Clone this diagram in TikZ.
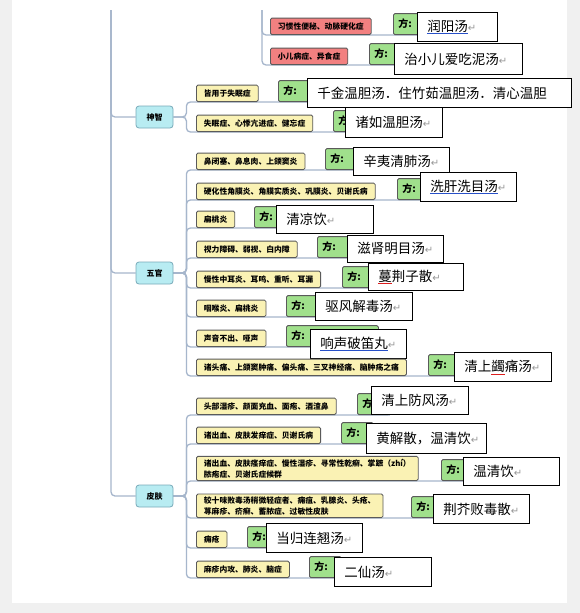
\documentclass[tikz,border=0pt]{standalone}
\usepackage{fontspec}
\newfontfamily\cjk{Noto Sans CJK SC}
\newfontfamily\symfont{DejaVu Sans}
\usetikzlibrary{backgrounds}

\definecolor{pagegray}{RGB}{240,240,240}
\definecolor{linecol}{RGB}{166,182,204}
\definecolor{boxline}{RGB}{90,90,90}
\definecolor{illfill}{RGB}{250,242,180}
\definecolor{redfill}{RGB}{242,128,128}
\definecolor{fangfill}{RGB}{160,224,140}
\definecolor{sectfill}{RGB}{184,236,242}
\definecolor{sectline}{RGB}{120,170,185}
\definecolor{retgray}{RGB}{150,150,150}
\definecolor{ulblue}{RGB}{40,80,200}
\definecolor{ulred}{RGB}{220,30,30}

\newcommand{\retmark}{{\symfont\fontsize{10}{10}\selectfont\color{retgray}↵}}
\newcommand{\ulblue}[1]{\sbox0{#1}\rlap{\color{ulblue}\rule[-2.5pt]{\wd0}{0.7pt}}\usebox0}
\newcommand{\ulred}[1]{\sbox0{#1}\rlap{\color{ulred}\rule[-3pt]{\wd0}{0.6pt}}\usebox0}

\tikzset{
  branch/.style={draw=linecol, line width=1.3pt, rounded corners=4pt},
  ill/.style={draw=boxline, fill=illfill, line width=0.8pt, rounded corners=1.5pt,
    font=\cjk\bfseries\fontsize{7.8}{11}\selectfont, inner xsep=7.5pt, inner ysep=2.5pt,
    minimum height=16.5pt, align=left, anchor=south west},
  illred/.style={ill, fill=redfill},
  fangbox/.style={draw=boxline, fill=fangfill, line width=0.8pt, rounded corners=1.5pt,
    font=\cjk\bfseries\fontsize{10}{10}\selectfont, inner xsep=5pt, inner ysep=0pt,
    minimum height=21pt, anchor=south west},
  ansbox/.style={draw=black, fill=white, line width=0.8pt,
    font=\cjk\fontsize{13.5}{14}\selectfont, inner xsep=10pt, inner ysep=0pt, anchor=north west},
  sect/.style={draw=sectline, fill=sectfill, line width=0.8pt, rounded corners=3pt,
    font=\cjk\bfseries\fontsize{8}{8}\selectfont, minimum width=37pt, minimum height=22pt, inner sep=0pt}
}

\begin{document}
\begin{tikzpicture}[x=1pt, y=-1pt]
  \useasboundingbox (0,0) rectangle (580,613);
  %% ── Page ────────────────────────────────────────────────────
  \begin{scope}[on background layer]
    \fill[pagegray] (0,0) rectangle (580,613);
    \fill[white] (12,0) rectangle (567,603);
  \end{scope}
  %% ── Trunk and topics ────────────────────────────────────────
  \coordinate (root) at (111,10);
  \coordinate (topsub) at (262,10);
  \node[sect] (shenzhi) at (154.5,117) {神智};
  \node[sect] (wuguan)  at (154.5,273) {五官};
  \node[sect] (pifu)    at (154.5,496) {皮肤};
  \begin{scope}[on background layer]
    \draw[branch] (root) |- (shenzhi.west);
    \draw[branch] (root) |- (wuguan.west);
    \draw[branch] (root) |- (pifu.west);
  \end{scope}
  %% ── Rows: name / bottom / symptom / fang x / fang w / box x / box y / box w / box h / formula ──
  %% top (topic cut off)
  \foreach \n/\yb/\txt/\fx/\fw/\bx/\by/\bw/\bh/\ans in {
    t1/35/{习惯性便秘、动脉硬化症}/393/32/417/12/80/29/{\ulblue{润阳汤}\retmark},
    t2/65/{小儿病症、异食症}/369/32/394/43/128/31/{治小儿爱吃泥汤\retmark}}{
    \node[illred] (\n) at (270,\yb) {\txt};
    \node[fangbox] (\n f) at (\fx,\yb) {\makebox[\dimexpr\fw pt-10pt\relax][l]{方:}};
    \node[ansbox, minimum height=\bh pt] (\n a) at (\bx,\by) {\makebox[\dimexpr\bw pt-20pt\relax][l]{\ans}};
    \begin{scope}[on background layer]
      \draw[branch] (topsub) |- (\n f.south east);
    \end{scope}
  }
  %% 神智
  \foreach \n/\yb/\txt/\fx/\fw/\bx/\by/\bw/\bh/\ans in {
    s1/102/{皆用于失眠症}/278/36/307/78/264/29/{千金温胆汤．住竹茹温胆汤．清心温胆},
    s2/132/{失眠症、心悸亢进症、健忘症}/333/32/345/107/97/30/{诸如温胆汤\retmark}}{
    \node[ill] (\n) at (196,\yb) {\txt};
    \node[fangbox] (\n f) at (\fx,\yb) {\makebox[\dimexpr\fw pt-10pt\relax][l]{方:}};
    \node[ansbox, minimum height=\bh pt] (\n a) at (\bx,\by) {\makebox[\dimexpr\bw pt-20pt\relax][l]{\ans}};
    \begin{scope}[on background layer]
      \draw[branch] (shenzhi.east) -- ++(13,0) |- (\n f.south east);
    \end{scope}
  }
  %% 五官
  \foreach \n/\yb/\txt/\fx/\fw/\bx/\by/\bw/\bh/\ans in {
    w1/170/{鼻闭塞、鼻息肉、上颌窦炎}/325/32/353/147/96/28/{辛夷清肺汤\retmark},
    w2/200/{硬化性角膜炎、角膜实质炎、巩膜炎、贝谢氏病}/397/32/420/172/96/29/{\ulblue{洗肝洗目汤}\retmark},
    w3/228/{扁桃炎}/254/32/276/205/97/28/{清凉饮\retmark},
    w4/258/{视力障碍、弱视、白内障}/317/32/347/235/96/27/{滋肾明目汤\retmark},
    w5/288/{慢性中耳炎、耳鸣、重听、耳漏}/342/32/368/263/95/27/{\ulred{蔓}荆子散\retmark},
    w6/317/{咽喉炎、扁桃炎}/286/32/315/292/97/28/{驱风解毒汤\retmark},
    w7/347/{声音不出、哑声}/286/92/310/329/96/29/{\ulblue{响声破笛丸}\retmark},
    w8/376/{诸头痛、上颌窦肿痛、偏头痛、三叉神经痛、脑肿疡之痛}/428/32/454/352/97/29/{清上\ulred{蠲}痛汤\retmark}}{
    \node[ill] (\n) at (196,\yb) {\txt};
    \node[fangbox] (\n f) at (\fx,\yb) {\makebox[\dimexpr\fw pt-10pt\relax][l]{方:}};
    \node[ansbox, minimum height=\bh pt] (\n a) at (\bx,\by) {\makebox[\dimexpr\bw pt-20pt\relax][l]{\ans}};
    \begin{scope}[on background layer]
      \draw[branch] (wuguan.east) -- ++(13,0) |- (\n f.south east);
    \end{scope}
  }
  %% 皮肤
  \foreach \n/\yb/\txt/\fx/\fw/\bx/\by/\bw/\bh/\ans in {
    p1/415/{头部湿疹、颜面充血、面疱、酒渣鼻}/357/32/371/386/97/28/{清上防风汤\retmark},
    p2/444/{诸出血、皮肤发痒症、贝谢氏病}/341/32/366/423/120/30/{黄解散，温清饮\retmark},
    p3/481/{诸出血、皮肤瘙痒症、慢性湿疹、寻常性乾癣、掌蹠（zhí）\\脓疱症、贝谢氏症候群}/441/32/463/457/96/28/{温清饮\retmark},
    p4/518/{较十味败毒汤稍微轻症者、痈疽、乳腺炎、头疮、\\荨麻疹、疥癣、蓄脓症、过敏性皮肤}/411/32/433/494/96/29/{荆芥败毒散\retmark},
    p5/548/{痈疮}/247/32/266/523/96/29/{当归连翘汤\retmark},
    p6/578/{麻疹内攻、肺炎、脑症}/309/32/334/557/97/29/{二仙汤\retmark}}{
    \node[ill] (\n) at (196,\yb) {\txt};
    \node[fangbox] (\n f) at (\fx,\yb) {\makebox[\dimexpr\fw pt-10pt\relax][l]{方:}};
    \node[ansbox, minimum height=\bh pt] (\n a) at (\bx,\by) {\makebox[\dimexpr\bw pt-20pt\relax][l]{\ans}};
    \begin{scope}[on background layer]
      \draw[branch] (pifu.east) -- ++(13,0) |- (\n f.south east);
    \end{scope}
  }
\end{tikzpicture}
\end{document}
